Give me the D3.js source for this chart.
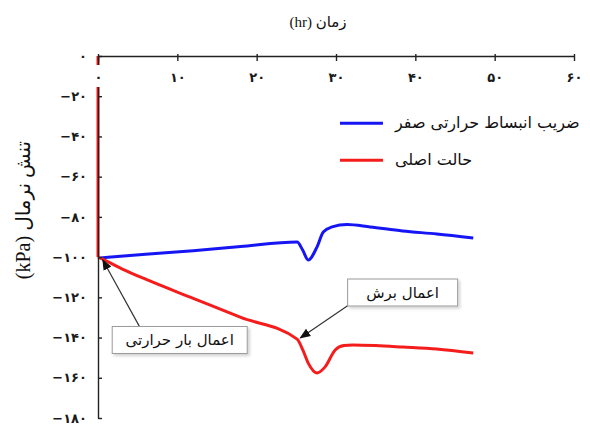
<!DOCTYPE html>
<html>
<head>
<meta charset="utf-8">
<script src="https://cdn.jsdelivr.net/npm/d3@7"></script>
<style>
  body { margin: 0; background: #fff; }
  text { font-family: "DejaVu Sans", sans-serif; }
  .axis path, .axis line { stroke: #222; stroke-width: 1.4; }
  .axis text { font-size: 13px; fill: #1a1a1a; font-weight: bold; }
  .title { font-family: "Liberation Serif", "DejaVu Sans", serif; }
</style>
</head>
<body>
<svg id="chart" width="590" height="426"></svg>
<script>
// time (hr) and normal stress (kPa)
var redTime  = [0, 0, 0.3, 3, 6, 12, 18, 25.1, 25.8, 26.5, 27.6, 28.6, 29.9, 31, 32.1, 35, 38.4, 42.7, 47.3];
var redValue = [0, -100, -100.5, -105.8, -111, -120.5, -130, -140.8, -146, -152.7, -157.6, -154.7, -146.2, -144, -143.7, -144, -144.7, -145.7, -147.7];

var blueTime  = [0.3, 6, 12, 18, 25.1, 25.8, 26.5, 27.6, 28.4, 29.5, 31.4, 34.3, 38.4, 42.7, 47.3];
var blueValue = [-100.4, -98.6, -96.8, -94.7, -92.5, -96.5, -101.4, -95, -87.5, -85, -83.8, -85, -87, -88.5, -90.5];

var xTicks = [0, 10, 20, 30, 40, 50, 60];
var xTickLabels = ['۰', '۱۰', '۲۰', '۳۰', '۴۰', '۵۰', '۶۰'];
var yTicks = [0, -20, -40, -60, -80, -100, -120, -140, -160, -180];
var yTickLabels = ['۰', '−۲۰', '−۴۰', '−۶۰', '−۸۰', '−۱۰۰', '−۱۲۰', '−۱۴۰', '−۱۶۰', '−۱۸۰'];

var seriesNames = ['ضریب انبساط حرارتی صفر', 'حالت اصلی'];
var seriesColors = ['#1616f5', '#f51c1c'];

var xTitle = 'زمان (hr)';
var yTitle = 'تنش نرمال (kPa)';

// annotations: label, box centre (hr, kPa), arrow tail, arrow tip
var notes = [
  { text: 'اعمال بار حرارتی', at: [10.3, -141.2], w: 135, tail: [5.2, -134.3], tip: [0.6, -101.4] },
  { text: 'اعمال برش', at: [38.4, -117.6], w: 110, tail: [31.6, -123.8], tip: [25.5, -140.2] }
];

var margin = { top: 56, left: 98, right: 16, bottom: 8 };
var svg = d3.select('#chart');
var width = +svg.attr('width');
var height = +svg.attr('height');
var innerWidth = width - margin.left - margin.right;
var innerHeight = height - margin.top - margin.bottom;

var xScale = d3.scaleLinear().domain([0, 60]).range([0, innerWidth]);
var yScale = d3.scaleLinear().domain([-180, 0]).range([innerHeight, 0]);

var g = svg.append('g')
    .attr('transform', `translate(${margin.left},${margin.top})`);

var defs = svg.append('defs');
defs.append('marker')
    .attr('id', 'head')
    .attr('viewBox', '0 0 10 10')
    .attr('refX', 9).attr('refY', 5)
    .attr('markerWidth', 11).attr('markerHeight', 11)
    .attr('markerUnits', 'userSpaceOnUse')
    .attr('orient', 'auto')
  .append('path')
    .attr('d', 'M0,1 L10,5 L0,9 Z')
    .attr('fill', '#111');
var shadow = defs.append('filter').attr('id', 'shadow')
    .attr('x', '-10%').attr('y', '-20%').attr('width', '130%').attr('height', '160%');
shadow.append('feDropShadow')
    .attr('dx', 2).attr('dy', 2).attr('stdDeviation', 1.5)
    .attr('flood-color', '#000').attr('flood-opacity', 0.18);

// lines
var line = d3.line()
    .x(function (d) { return xScale(d[0]); })
    .y(function (d) { return yScale(d[1]); })
    .curve(d3.curveMonotoneX);
var lineV = d3.line()
    .x(function (d) { return xScale(d[0]); })
    .y(function (d) { return yScale(d[1]); });

var blueData = d3.zip(blueTime, blueValue);
var redData = d3.zip(redTime, redValue);

g.append('path')
    .attr('d', line(blueData))
    .attr('fill', 'none')
    .attr('stroke', seriesColors[0])
    .attr('stroke-width', 3)
    .attr('stroke-linejoin', 'round');

g.append('path')
    .attr('d', lineV(redData.slice(0, 2)))
    .attr('fill', 'none')
    .attr('stroke', seriesColors[1])
    .attr('stroke-width', 3);
g.append('path')
    .attr('d', line(redData.slice(1)))
    .attr('fill', 'none')
    .attr('stroke', seriesColors[1])
    .attr('stroke-width', 3)
    .attr('stroke-linejoin', 'round');

// axes
var yAxis = d3.axisLeft(yScale)
    .tickValues(yTicks)
    .tickFormat(function (d, i) { return yTickLabels[i]; })
    .tickSize(-4)
    .tickSizeOuter(0)
    .tickPadding(11);
var yAxisG = g.append('g').attr('class', 'axis').call(yAxis);
yAxisG.selectAll('text').attr('direction', 'ltr');

var xAxis = d3.axisBottom(xScale)
    .tickValues(xTicks)
    .tickFormat(function (d, i) { return xTickLabels[i]; })
    .tickSize(5)
    .tickSizeOuter(0)
    .tickPadding(12);
var xAxisG = g.append('g').attr('class', 'axis').call(xAxis);
xAxisG.selectAll('.tick line').attr('y1', -2);
// the zero label sits on a white patch over the red line
xAxisG.selectAll('.tick')
  .filter(function (d) { return d === 0; })
  .insert('rect', 'text')
    .attr('x', -4).attr('y', 9)
    .attr('width', 8).attr('height', 22)
    .attr('fill', '#fff');

// legend
var legend = g.append('g')
    .attr('transform', `translate(${xScale(30.5)},${yScale(-33.5)})`);
seriesNames.forEach(function (name, i) {
  var row = legend.append('g').attr('transform', `translate(0,${i * 37})`);
  row.append('line')
      .attr('x1', 0).attr('x2', 43)
      .attr('stroke', seriesColors[i])
      .attr('stroke-width', 3);
  row.append('text')
      .attr('x', 55).attr('y', 5)
      .attr('font-size', 16)
      .attr('fill', '#111')
      .text(name);
});

// annotations
notes.forEach(function (n) {
  g.append('line')
      .attr('x1', xScale(n.tail[0])).attr('y1', yScale(n.tail[1]))
      .attr('x2', xScale(n.tip[0])).attr('y2', yScale(n.tip[1]))
      .attr('stroke', '#333')
      .attr('stroke-width', 1.2)
      .attr('marker-end', 'url(#head)');
  var cx = xScale(n.at[0]);
  var cy = yScale(n.at[1]);
  g.append('rect')
      .attr('x', cx - n.w / 2).attr('y', cy - 13.5)
      .attr('width', n.w).attr('height', 27)
      .attr('fill', '#fff')
      .attr('stroke', '#9a9a9a')
      .attr('stroke-width', 1)
      .attr('filter', 'url(#shadow)');
  g.append('text')
      .attr('x', cx).attr('y', cy + 5)
      .attr('text-anchor', 'middle')
      .attr('direction', 'rtl')
      .attr('font-size', 15)
      .attr('fill', '#111')
      .text(n.text);
});

// axis titles
svg.append('text')
    .attr('class', 'title')
    .attr('x', 318).attr('y', 27)
    .attr('text-anchor', 'middle')
    .attr('direction', 'rtl')
    .attr('font-size', 15)
    .attr('fill', '#111')
    .text(xTitle);

svg.append('text')
    .attr('class', 'title')
    .attr('transform', 'translate(30,210) rotate(-90)')
    .attr('text-anchor', 'middle')
    .attr('direction', 'rtl')
    .attr('font-size', 20)
    .attr('fill', '#111')
    .text(yTitle);
</script>
</body>
</html>
